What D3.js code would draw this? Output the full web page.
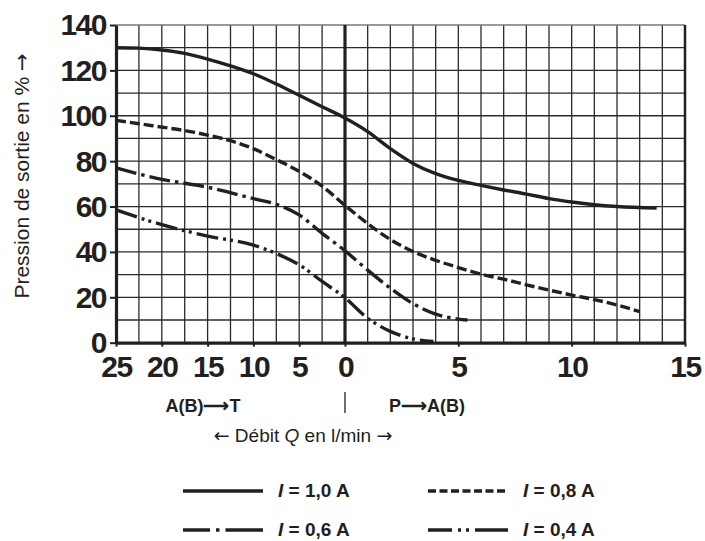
<!DOCTYPE html>
<html lang="fr">
<head>
<meta charset="UTF-8" />
<title>Pression de sortie</title>
<script src="https://d3js.org/d3.v7.min.js"></script>
<style>
  body { margin: 0; background: #fff; }
  text { fill: #231f20; }
</style>
</head>
<body>
<div id="chart"></div>
<script>
  // flow: negative = A(B)->T side, positive = P->A(B) side (l/min)
  const flow10 = [-25, -22.5, -20, -17.5, -15, -12.5, -10, -7.5, -5, -2.5, 0, 1, 2, 3, 4, 5, 6, 7, 8, 9, 10, 11, 12, 13.75]
  const press10 = [130, 129.8, 129, 127.5, 125, 122, 118.5, 114, 109, 104, 99, 93, 85.5, 79, 74.5, 71.5, 69.3, 67.3, 65.5, 63.5, 62, 60.8, 60, 59.3]

  const flow08 = [-25, -22.5, -20, -17.5, -15, -12.5, -10, -7.5, -5, -2.5, 0, 1, 2, 3, 4, 5, 6, 7, 8, 9, 10, 11, 12, 13]
  const press08 = [98, 96.5, 95, 93.5, 91.5, 89, 85.5, 80.7, 75.5, 69, 60.5, 52.5, 45.5, 40.2, 36.3, 33.1, 30.2, 28, 25.5, 23.2, 21, 19, 16.6, 13.7]

  const flow06 = [-25, -20, -15, -10, -7.5, -5, -2.5, 0, 1, 2, 3, 4, 5, 5.4]
  const press06 = [77, 72, 68.5, 63.5, 61, 56.3, 48.2, 40.5, 32, 24, 17.2, 12.6, 10.4, 10]

  const flow04 = [-25, -20, -15, -10, -7.5, -5, -2.5, 0, 1, 2, 3, 3.9]
  const press04 = [58.5, 52, 47, 43, 39.3, 34.3, 27, 19.8, 10.8, 5, 1.7, 0.5]

  const seriesNames = ["1,0 A", "0,8 A", "0,6 A", "0,4 A"]
  const xTicks = [-25, -20, -15, -10, -5, 0, 5, 10, 15]
  const yTicks = [0, 20, 40, 60, 80, 100, 120, 140]

  const W = 705, H = 541
  const FONT = "'Liberation Sans', Arial, sans-serif"
  const ARROW_FONT = "'DejaVu Sans', sans-serif"

  const svg = d3.select("#chart").append("svg")
    .attr("width", W).attr("height", H)
    .style("font-family", FONT)

  // left half is compressed: 25 l/min over the same width as 10 on the right
  const x = d3.scaleLinear().domain([-25, 0, 15]).range([116, 345, 685])
  const y = d3.scaleLinear().domain([0, 140]).range([342.7, 25])

  const gridX = d3.range(-25, 0, 2.5).concat(d3.range(1, 16, 1))
  const gridY = d3.range(10, 141, 10)

  // grid
  const grid = svg.append("g").attr("stroke", "#2b2b2b").attr("stroke-width", 1.3)
  grid.selectAll(".gx").data(gridX).enter().append("line")
    .attr("x1", d => x(d)).attr("x2", d => x(d))
    .attr("y1", y(0)).attr("y2", y(140))
  grid.selectAll(".gy").data(gridY).enter().append("line")
    .attr("x1", x(-25)).attr("x2", x(15))
    .attr("y1", d => y(d)).attr("y2", d => y(d))
    .attr("stroke", d => d === 140 ? "#777" : "#2b2b2b")

  // right border + zero line
  svg.append("line")
    .attr("x1", x(15)).attr("x2", x(15)).attr("y1", y(0)).attr("y2", y(140))
    .attr("stroke", "#231f20").attr("stroke-width", 2.5)
  svg.append("line")
    .attr("x1", x(0)).attr("x2", x(0)).attr("y1", y(0)).attr("y2", y(140))
    .attr("stroke", "#231f20").attr("stroke-width", 3.2)

  // axes
  const yAxis = svg.append("g")
    .attr("transform", `translate(${x(-25)},0)`)
    .call(d3.axisLeft(y).tickValues(yTicks).tickSize(6).tickSizeOuter(0).tickPadding(4))
  const xAxis = svg.append("g")
    .attr("transform", `translate(0,${y(0)})`)
    .call(d3.axisBottom(x).tickValues(xTicks).tickFormat(d => Math.abs(d))
      .tickSize(4).tickSizeOuter(0).tickPadding(9))

  ;[yAxis, xAxis].forEach(g => {
    g.select(".domain").attr("stroke", "#231f20").attr("stroke-width", 3.2)
    g.selectAll(".tick line").attr("stroke", "#231f20").attr("stroke-width", 2)
    g.selectAll(".tick text")
      .attr("fill", "#231f20")
      .style("font-family", FONT)
      .style("font-weight", "bold")
      .style("font-size", "30px")
      .style("letter-spacing", "-1.5px")
  })
  yAxis.selectAll(".tick text").attr("dy", "0.33em")
  xAxis.selectAll(".tick text").attr("dy", "0.72em")

  // curves
  const series = [
    { name: seriesNames[0], q: flow10, p: press10, dash: null, legendDash: null },
    { name: seriesNames[1], q: flow08, p: press08, dash: "10,4", legendDash: "8,3.5,8,3.5,8,3.5,8,3.5,8,3.5,8,3.5,8,4,2,10" },
    { name: seriesNames[2], q: flow06, p: press06, dash: "21,5,3.5,5", legendDash: "27,6,3.5,6,40" },
    { name: seriesNames[3], q: flow04, p: press04, dash: "22,5,3,4,3,5", legendDash: "24,6,3,5,3,6,40" }
  ]

  const line = d3.line()
    .x(d => x(d[0]))
    .y(d => y(d[1]))
    .curve(d3.curveMonotoneX)

  svg.append("g").selectAll("path")
    .data(series).enter().append("path")
    .attr("d", s => line(s.q.map((q, i) => [q, s.p[i]])))
    .attr("fill", "none")
    .attr("stroke", "#231f20")
    .attr("stroke-width", 3.4)
    .attr("stroke-dasharray", s => s.dash)

  // axis titles
  const yt = svg.append("text")
    .attr("transform", "translate(29,176) rotate(-90)")
    .attr("text-anchor", "middle")
    .style("font-size", "21px")
  yt.append("tspan").text("Pression de sortie en % ")
  yt.append("tspan").style("font-family", ARROW_FONT).text("\u2192")

  svg.append("text")
    .attr("x", 203).attr("y", 412)
    .attr("text-anchor", "middle")
    .style("font-size", "18px").style("font-weight", "bold")
    .text("A(B)\u27F6T")
  svg.append("text")
    .attr("x", 427).attr("y", 412)
    .attr("text-anchor", "middle")
    .style("font-size", "18px").style("font-weight", "bold")
    .text("P\u27F6A(B)")
  svg.append("line")
    .attr("x1", x(0)).attr("x2", x(0)).attr("y1", 392).attr("y2", 413)
    .attr("stroke", "#231f20").attr("stroke-width", 1.3)

  const qt = svg.append("text")
    .attr("x", 303).attr("y", 442)
    .attr("text-anchor", "middle")
    .style("font-size", "19px")
  qt.append("tspan").style("font-family", ARROW_FONT).text("\u2190")
  qt.append("tspan").text(" Débit ")
  qt.append("tspan").style("font-style", "italic").text("Q")
  qt.append("tspan").text(" en l/min ")
  qt.append("tspan").style("font-family", ARROW_FONT).text("\u2192")

  // legend
  const legendPos = [[183, 491], [428, 491], [183, 530], [428, 530]]
  const legend = svg.append("g").selectAll("g")
    .data(series).enter().append("g")
    .attr("transform", (s, i) => `translate(${legendPos[i][0]},${legendPos[i][1]})`)
  legend.append("line")
    .attr("x1", 0).attr("x2", 80)
    .attr("stroke", "#231f20").attr("stroke-width", 3.4)
    .attr("stroke-dasharray", s => s.legendDash)
  const lt = legend.append("text")
    .attr("x", 95).attr("y", 6)
    .style("font-size", "19px").style("font-weight", "bold")
  lt.append("tspan").style("font-style", "italic").text("I")
  lt.append("tspan").text(s => " = " + s.name)
</script>
</body>
</html>
